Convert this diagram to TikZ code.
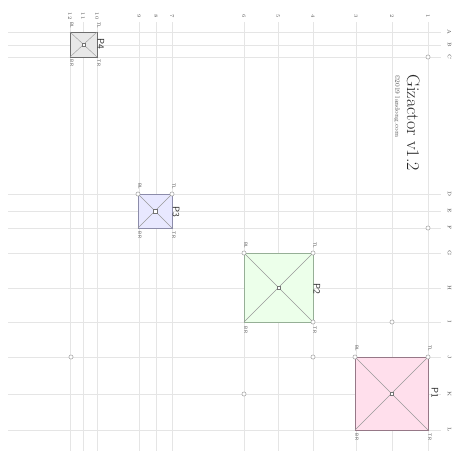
\documentclass[tikz,border=0pt]{standalone}
\begin{document}
\begin{tikzpicture}[x=1pt,y=-1pt,
  gridline/.style={draw=black!10,line width=0.6pt},
  axlab/.style={font=\fontsize{5}{5}\selectfont,text=black!70,rotate=-90,inner sep=0pt},
  cornerlab/.style={font=\sffamily\fontsize{4.5}{4.5}\selectfont,text=black!70,rotate=-90,inner sep=0pt},
  plab/.style={font=\sffamily\fontsize{9.5}{9.5}\selectfont,text=black!85,rotate=-90,inner sep=0pt},
  pt/.style={circle,draw=black!45,fill=white,line width=0.4pt,inner sep=0pt,minimum size=4.2pt},
  ctr/.style={rectangle,draw=black!55,fill=white,line width=0.4pt,inner sep=0pt,minimum size=3.6pt},
  diag/.style={draw=black!40,line width=0.4pt},
  sqone/.style={fill=pink1,draw=pinkb,line width=0.6pt},
  sqtwo/.style={fill=green1,draw=greenb,line width=0.6pt},
  sqthree/.style={fill=blue1,draw=blueb,line width=0.6pt},
  sqfour/.style={fill=gray1,draw=grayb,line width=0.6pt}]
\definecolor{pink1}{RGB}{255,223,236}
\definecolor{pinkb}{RGB}{150,120,135}
\definecolor{green1}{RGB}{236,255,234}
\definecolor{greenb}{RGB}{150,175,150}
\definecolor{blue1}{RGB}{232,232,255}
\definecolor{blueb}{RGB}{140,140,170}
\definecolor{gray1}{RGB}{232,232,232}
\definecolor{grayb}{RGB}{110,110,110}
\useasboundingbox (0,0) rectangle (452,450);
% vertical grid (rows 1..12)
\foreach \n/\x in {1/428,2/392,3/356,4/313,5/278,6/244,7/172,8/156,9/139,10/97,11/83,12/70}{
  \draw[gridline] (\x,22) -- (\x,452);
  \node[axlab] (row\n) at (\x,16) {\n};
}
% horizontal grid (columns A..L)
\foreach \l/\y in {A/32,B/45,C/57,D/194,E/211,F/228,G/253,H/288,I/322,J/357,K/394,L/430}{
  \draw[gridline] (8,\y) -- (441,\y);
  \node[axlab,anchor=north] (col\l) at (451.5,\y) {\l};
}
% title
\node[rotate=-90,font=\fontsize{18}{18}\selectfont,text=black!85,anchor=north west,inner sep=0pt] (title) at (420,74) {Gizactor v1.2};
\node[rotate=-90,font=\fontsize{6.5}{6.5}\selectfont,text=black!70,anchor=north west,inner sep=0pt] (copy) at (400,75) {\textcopyright2019 landong.com};
% P1
\coordinate (p1tl) at (428,357); \coordinate (p1bl) at (355,357);
\coordinate (p1tr) at (428,430); \coordinate (p1br) at (355,430);
\draw[sqone] (p1bl) rectangle (p1tr);
\draw[diag] (p1tl) -- (p1br) (p1bl) -- (p1tr);
\node[ctr] (p1c) at (391.5,393.5) {};
\node[pt] (p1tlpt) at (p1tl) {}; \node[pt] (p1blpt) at (p1bl) {};
\node[plab] (p1lab) at (435,393) {P1};
\node[cornerlab] (p1tll) at (430,348) {TL};
\node[cornerlab] (p1bll) at (357,348) {BL};
\node[cornerlab] (p1trl) at (430,437) {TR};
\node[cornerlab] (p1brl) at (357,437) {BR};
% P2
\coordinate (p2tl) at (313,253); \coordinate (p2bl) at (244,253);
\coordinate (p2tr) at (313,322); \coordinate (p2br) at (244,322);
\draw[sqtwo] (p2bl) rectangle (p2tr);
\draw[diag] (p2tl) -- (p2br) (p2bl) -- (p2tr);
\node[ctr] (p2c) at (278.5,287.5) {};
\node[pt] (p2tlpt) at (p2tl) {}; \node[pt] (p2blpt) at (p2bl) {}; \node[pt] (p2trpt) at (p2tr) {};
\node[plab] (p2lab) at (317,289) {P2};
\node[cornerlab] (p2tll) at (315,245) {TL};
\node[cornerlab] (p2bll) at (246,245) {BL};
\node[cornerlab] (p2trl) at (315,330) {TR};
\node[cornerlab] (p2brl) at (246,330) {BR};
% P3
\coordinate (p3tl) at (172,194); \coordinate (p3bl) at (138,194);
\coordinate (p3tr) at (172,228); \coordinate (p3br) at (138,228);
\draw[sqthree] (p3bl) rectangle (p3tr);
\draw[diag] (p3tl) -- (p3br) (p3bl) -- (p3tr);
\node[ctr] (p3c) at (155,211) {};
\node[pt] (p3tlpt) at (p3tl) {}; \node[pt] (p3blpt) at (p3bl) {};
\node[plab] (p3lab) at (176,212) {P3};
\node[cornerlab] (p3tll) at (174,186) {TL};
\node[cornerlab] (p3bll) at (140,186) {BL};
\node[cornerlab] (p3trl) at (174,235) {TR};
\node[cornerlab] (p3brl) at (140,235) {BR};
% P4
\coordinate (p4tl) at (97,32); \coordinate (p4bl) at (70,32);
\coordinate (p4tr) at (97,57); \coordinate (p4br) at (70,57);
\draw[sqfour] (p4bl) rectangle (p4tr);
\draw[diag] (p4tl) -- (p4br) (p4bl) -- (p4tr);
\node[ctr] (p4c) at (83.5,44.5) {};
\node[plab] (p4lab) at (101,44) {P4};
\node[cornerlab] (p4tll) at (99,25) {TL};
\node[cornerlab] (p4bll) at (72,25) {BL};
\node[cornerlab] (p4trl) at (99,63) {TR};
\node[cornerlab] (p4brl) at (72,63) {BR};
% free points
\node[pt] (q1) at (428,57) {};
\node[pt] (q2) at (428,228) {};
\node[pt] (q3) at (392,322) {};
\node[pt] (q4) at (313,357) {};
\node[pt] (q5) at (71,357) {};
\node[pt] (q6) at (244,394) {};
\end{tikzpicture}
\end{document}
